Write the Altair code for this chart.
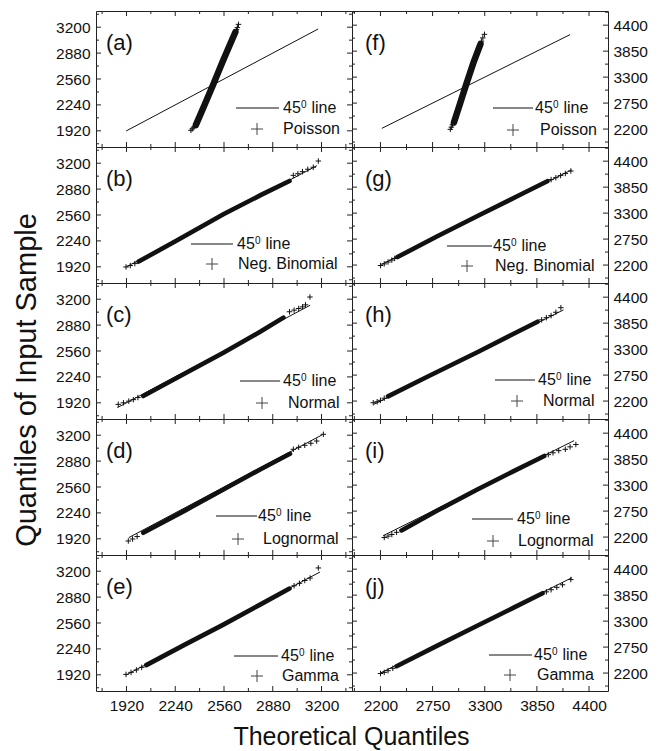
import altair as alt
import pandas as pd

FONT = "Liberation Sans"
W, H = 256, 136
INK = "#111111"
FRAME = "#222222"
PLUS = "M-1,0L1,0M0,-1L0,1"

# ---------------- axes ----------------
left_x_domain = [1720, 3400]
left_y_domain = [1720, 3400]
right_x_domain = [1900, 4600]
right_y_domain = [1820, 4700]
left_major = [1920, 2240, 2560, 2880, 3200]
left_minor = [1760, 2080, 2400, 2720, 3040, 3360]
right_major = [2200, 2750, 3300, 3850, 4400]
right_minor_x = [1925, 2475, 3025, 3575, 4125]
right_minor_y = [1925, 2475, 3025, 3575, 4125, 4675]

letters_left = ["(a)", "(b)", "(c)", "(d)", "(e)"]
letters_right = ["(f)", "(g)", "(h)", "(i)", "(j)"]
distributions = ["Poisson", "Neg. Binomial", "Normal", "Lognormal", "Gamma"]

# ---------------- data (theoretical t, sample s) ----------------
# (a) Poisson, left
a_ref = [1918, 3178]
a_band_t = [2375, 2430, 2490, 2550, 2600, 2635]
a_band_s = [1990, 2230, 2494, 2770, 2990, 3140]
a_tail_t = [2343, 2352, 2362, 2642, 2648, 2655]
a_tail_s = [1926, 1945, 1965, 3170, 3195, 3235]
# (b) Neg. Binomial, left
b_ref = [1920, 3170]
b_band_t = [2000, 2250, 2556, 2800, 2990]
b_band_s = [1985, 2245, 2569, 2805, 2980]
b_tail_t = [1917, 1945, 1975, 3015, 3045, 3075, 3110, 3146, 3179]
b_tail_s = [1918, 1935, 1960, 3050, 3070, 3095, 3125, 3150, 3227]
# (c) Normal, left
c_ref = [1860, 3125]
c_band_t = [2030, 2300, 2556, 2800, 2950]
c_band_s = [2004, 2280, 2539, 2800, 2972]
c_tail_t = [1866, 1900, 1935, 1965, 1995, 2990, 3020, 3050, 3075, 3095, 3124]
c_tail_s = [1901, 1920, 1940, 1959, 1985, 3045, 3065, 3085, 3105, 3130, 3227]
# (d) Lognormal, left
d_ref = [1935, 3205]
d_band_t = [2030, 2300, 2556, 2800, 2993]
d_band_s = [1995, 2265, 2530, 2780, 2970]
d_tail_t = [1932, 1960, 1990, 3015, 3050, 3090, 3130, 3168, 3212]
d_tail_s = [1893, 1918, 1948, 3026, 3050, 3075, 3100, 3128, 3211]
# (e) Gamma, left
e_ref = [1920, 3190]
e_band_t = [2050, 2300, 2556, 2800, 2990]
e_band_s = [2040, 2290, 2540, 2790, 2985]
e_tail_t = [1917, 1950, 1985, 2020, 3020, 3055, 3090, 3125, 3179]
e_tail_s = [1925, 1950, 1980, 2012, 3020, 3050, 3085, 3115, 3240]
# (f) Poisson, right
f_ref = [2215, 4200]
f_band_t = [2975, 3040, 3105, 3180, 3255]
f_band_s = [2340, 2740, 3147, 3600, 4000]
f_tail_t = [2937, 2948, 2960, 3265, 3280, 3297]
f_tail_s = [2194, 2240, 2290, 4060, 4130, 4206]
# (g) Neg. Binomial, right
g_ref = [2210, 4215]
g_band_t = [2380, 2800, 3250, 3700, 3960]
g_band_s = [2370, 2810, 3265, 3715, 3975]
g_tail_t = [2201, 2240, 2280, 2320, 2350, 4000, 4050, 4100, 4150, 4208]
g_tail_s = [2190, 2225, 2265, 2305, 2340, 4010, 4050, 4095, 4140, 4192]
# (h) Normal, right
h_ref = [2130, 4130]
h_band_t = [2280, 2700, 3227, 3600, 3857]
h_band_s = [2300, 2720, 3240, 3620, 3880]
h_tail_t = [2124, 2165, 2200, 2240, 3900, 3950, 4000, 4050, 4103]
h_tail_s = [2165, 2185, 2215, 2260, 3920, 3965, 4010, 4080, 4177]
# (i) Lognormal, right
i_ref = [2229, 4243]
i_band_t = [2422, 2800, 3227, 3600, 3928]
i_band_s = [2340, 2760, 3214, 3590, 3916]
i_tail_t = [2240, 2280, 2320, 2370, 3970, 4020, 4080, 4150, 4200, 4261]
i_tail_s = [2190, 2220, 2255, 2300, 3945, 3985, 4030, 4058, 4110, 4160]
# (j) Gamma, right
j_ref = [2200, 4220]
j_band_t = [2370, 2800, 3210, 3600, 3910]
j_band_s = [2345, 2780, 3190, 3580, 3890]
j_tail_t = [2201, 2240, 2280, 2330, 3950, 4000, 4060, 4120, 4208]
j_tail_s = [2190, 2215, 2250, 2300, 3920, 3965, 4015, 4070, 4180]

left_data = [
    (a_ref, a_band_t, a_band_s, a_tail_t, a_tail_s),
    (b_ref, b_band_t, b_band_s, b_tail_t, b_tail_s),
    (c_ref, c_band_t, c_band_s, c_tail_t, c_tail_s),
    (d_ref, d_band_t, d_band_s, d_tail_t, d_tail_s),
    (e_ref, e_band_t, e_band_s, e_tail_t, e_tail_s),
]
right_data = [
    (f_ref, f_band_t, f_band_s, f_tail_t, f_tail_s),
    (g_ref, g_band_t, g_band_s, g_tail_t, g_tail_s),
    (h_ref, h_band_t, h_band_s, h_tail_t, h_tail_s),
    (i_ref, i_band_t, i_band_s, i_tail_t, i_tail_s),
    (j_ref, j_band_t, j_band_s, j_tail_t, j_tail_s),
]

# legend layout (pixels inside each panel): line x0, x1, line y, plus x, plus y, "45" x, name x
legend_left = [
    (140, 183, 97, 161, 118, 187, 187),
    (95, 137, 97, 116, 117, 141, 142),
    (144, 184, 98, 166, 120, 187, 192),
    (120, 161, 97, 142, 120, 162, 167),
    (138, 182, 101, 161, 121, 185, 186),
]
legend_right = [
    (141, 181, 97, 161, 119, 183, 188),
    (95, 140, 99, 115, 119, 141, 143),
    (143, 183, 97, 165, 118, 186, 191),
    (120, 161, 100, 141, 122, 165, 166),
    (137, 180, 100, 158, 120, 182, 185),
]

one = pd.DataFrame({"k": [0]})


def panel(col, row):
    if col == 0:
        xdom, ydom = left_x_domain, left_y_domain
        xmaj, xmin_ = left_major, left_minor
        ymaj, ymin_ = left_major, left_minor
        orient = "left"
        ref, bt, bs, tt, ts = left_data[row]
        lg = legend_left[row]
        letter, lx = letters_left[row], 10
    else:
        xdom, ydom = right_x_domain, right_y_domain
        xmaj, xmin_ = right_major, right_minor_x
        ymaj, ymin_ = right_major, right_minor_y
        orient = "right"
        ref, bt, bs, tt, ts = right_data[row]
        lg = legend_right[row]
        letter, lx = letters_right[row], 13
    band_w = 6.5 if row == 0 else 4.6
    dist = distributions[row]

    if row == 4:
        xaxis = alt.Axis(values=xmaj, ticks=False, domain=False, grid=False, format="d",
                         labelPadding=7, title=None, labelOverlap=False)
    else:
        xaxis = None
    yaxis = alt.Axis(values=ymaj, orient=orient, ticks=False, domain=False, format="d",
                     grid=False, labelPadding=6 if col == 0 else 5, title=None,
                     labelOverlap=False)
    xs = alt.Scale(domain=xdom, nice=False, zero=False)
    ys = alt.Scale(domain=ydom, nice=False, zero=False)

    def X(f):
        return alt.X(f, type="quantitative", scale=xs, axis=xaxis)

    def Y(f):
        return alt.Y(f, type="quantitative", scale=ys, axis=yaxis)

    layers = []
    for vals, L in ((xmaj, 5), (xmin_, 3)):
        d = pd.DataFrame({"v": vals})
        layers.append(alt.Chart(d).mark_rule(color=FRAME, strokeWidth=1).encode(
            x=X("v"), y=alt.value(0), y2=alt.value(L)))
        layers.append(alt.Chart(d).mark_rule(color=FRAME, strokeWidth=1).encode(
            x=X("v"), y=alt.value(H), y2=alt.value(H - L)))
    for vals, L in ((ymaj, 5), (ymin_, 3)):
        d = pd.DataFrame({"v": vals})
        layers.append(alt.Chart(d).mark_rule(color=FRAME, strokeWidth=1).encode(
            y=Y("v"), x=alt.value(0), x2=alt.value(L)))
        layers.append(alt.Chart(d).mark_rule(color=FRAME, strokeWidth=1).encode(
            y=Y("v"), x=alt.value(W), x2=alt.value(W - L)))

    layers.append(alt.Chart(pd.DataFrame({"t": ref, "s": ref})).mark_line(
        color=INK, strokeWidth=1).encode(x=X("t"), y=Y("s")))
    layers.append(alt.Chart(pd.DataFrame({"t": bt, "s": bs})).mark_line(
        color=INK, strokeWidth=band_w, strokeCap="round").encode(x=X("t"), y=Y("s")))
    layers.append(alt.Chart(pd.DataFrame({"t": tt, "s": ts})).mark_point(
        shape=PLUS, size=30, strokeWidth=1, color=INK, filled=False, opacity=1).encode(
        x=X("t"), y=Y("s")))

    x0, x1, ly, px, py, tx, nx = lg
    layers.append(alt.Chart(one).mark_rule(color=INK, strokeWidth=1).encode(
        x=alt.value(x0), x2=alt.value(x1), y=alt.value(ly)))
    layers.append(alt.Chart(one).mark_text(text="45", align="left", baseline="middle",
                                           fontSize=16, color=INK).encode(
        x=alt.value(tx), y=alt.value(ly)))
    layers.append(alt.Chart(one).mark_text(text="0", align="left", baseline="middle",
                                           fontSize=10, color=INK).encode(
        x=alt.value(tx + 18), y=alt.value(ly - 3.5)))
    layers.append(alt.Chart(one).mark_text(text="line", align="left", baseline="middle",
                                           fontSize=16, color=INK).encode(
        x=alt.value(tx + 28.5), y=alt.value(ly)))
    layers.append(alt.Chart(one).mark_point(shape=PLUS, size=144, strokeWidth=1,
                                            color="#444444", filled=False, opacity=1).encode(
        x=alt.value(px), y=alt.value(py)))
    layers.append(alt.Chart(one).mark_text(text=dist, align="left", baseline="middle",
                                           fontSize=16, color=INK).encode(
        x=alt.value(nx), y=alt.value(py)))
    layers.append(alt.Chart(one).mark_text(text=letter, align="left", baseline="middle",
                                           fontSize=22, color=INK).encode(
        x=alt.value(lx), y=alt.value(32)))

    return alt.layer(*layers).properties(width=W, height=H)


panels = []
for r in range(5):
    panels.append(panel(0, r))
    panels.append(panel(1, r))

grid = alt.concat(*panels, columns=2, spacing=0, bounds="flush",
                  title=alt.TitleParams("Theoretical Quantiles", orient="bottom",
                                        anchor="middle", fontSize=25, font=FONT,
                                        fontWeight="normal", color=INK, offset=11))
chart = alt.hconcat(grid, spacing=0,
                    title=alt.TitleParams("Quantiles of Input Sample", orient="left",
                                          anchor="middle", fontSize=29, font=FONT,
                                          fontWeight="normal", color=INK, offset=13)
                    ).properties(
    padding={"left": 5, "top": 2, "right": 5, "bottom": 2}
).configure_view(
    stroke=FRAME, strokeWidth=1
).configure_axis(
    labelFont=FONT, labelFontSize=15.5, labelColor=INK
).configure_text(
    font=FONT
).configure_title(
    font=FONT
)

chart.save("out.html", embed_options={"renderer": "svg", "actions": False})
